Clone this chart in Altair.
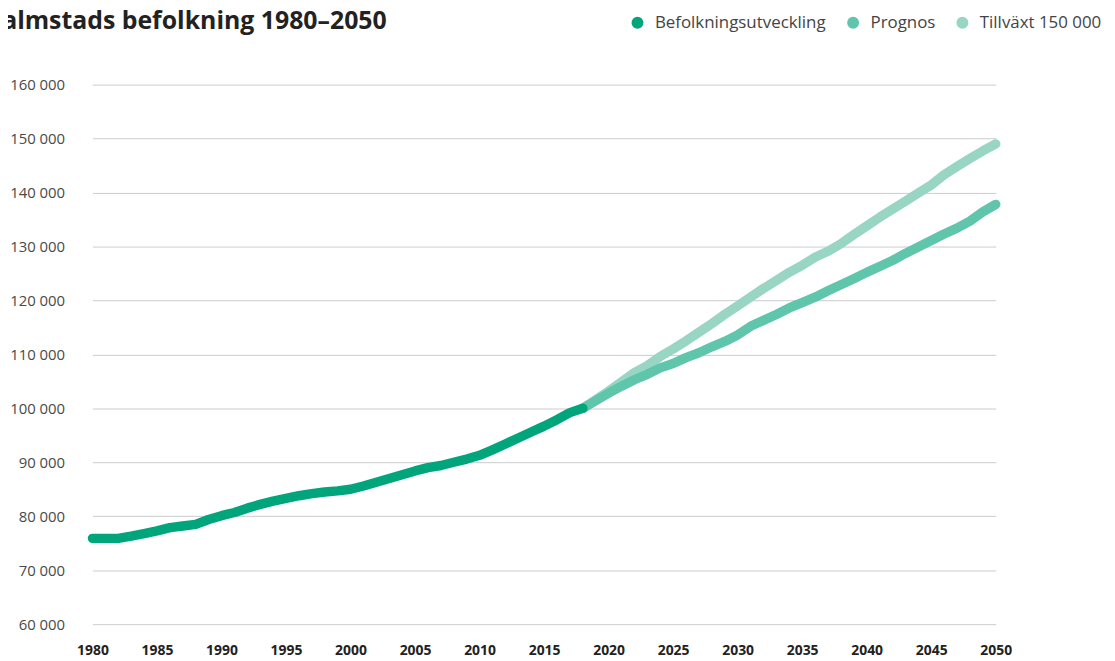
import altair as alt
import pandas as pd

# Befolkningsutveckling (historical) 1980–2018
hist_years = list(range(1980, 2019))
hist_values = [75900, 75900, 75900, 76300, 76800, 77300, 77900, 78200, 78500, 79400,
               80100, 80700, 81500, 82200, 82800, 83300, 83800, 84200, 84500, 84700,
               85000, 85600, 86300, 87000, 87700, 88400, 89000, 89400, 90000, 90600,
               91300, 92300, 93400, 94500, 95600, 96700, 97900, 99200, 100000]

# Prognos 2018–2050
prog_years = list(range(2018, 2051))
prog_values = [100000, 101400, 102800, 104100, 105300, 106300, 107500, 108300, 109400, 110300,
               111400, 112400, 113600, 115200, 116300, 117400, 118600, 119600, 120600, 121800,
               122900, 124000, 125200, 126300, 127400, 128700, 129900, 131100, 132300, 133400,
               134700, 136400, 137800]

# Tillväxt 150 000 2018–2050
till_years = list(range(2018, 2051))
till_values = [100000, 101600, 103200, 104900, 106600, 107900, 109600, 111000, 112500, 114100,
               115700, 117400, 119000, 120600, 122200, 123700, 125200, 126500, 128000, 129100,
               130500, 132200, 133800, 135400, 136900, 138400, 139900, 141400, 143300, 144800,
               146300, 147700, 149000]

series_names = ["Befolkningsutveckling", "Prognos", "Tillväxt 150 000"]
series_colors = ["#00a57c", "#5fc5ab", "#98d5c3"]
x_ticks = list(range(1980, 2051, 5))
y_ticks = list(range(60000, 160001, 10000))

rows = []
for name, ys, vs in [(series_names[0], hist_years, hist_values),
                     (series_names[1], prog_years, prog_values),
                     (series_names[2], till_years, till_values)]:
    for y, v in zip(ys, vs):
        rows.append({"year": y, "value": v, "serie": name})
df = pd.DataFrame(rows)

FONT = "Open Sans"

x_enc = alt.X("year:Q",
              scale=alt.Scale(domain=[1980, 2050], nice=False, zero=False),
              axis=alt.Axis(values=x_ticks, format="d", title=None, grid=False,
                            domain=False, ticks=False, labelFont=FONT, labelFontSize=14,
                            labelFontWeight="bold", labelColor="#222222",
                            labelPadding=20, labelFlush=False))
y_enc = alt.Y("value:Q",
              scale=alt.Scale(domain=[60000, 160000], nice=False, zero=False),
              axis=alt.Axis(values=y_ticks, title=None, grid=True, gridColor="#cccccc",
                            gridWidth=1, domain=False, ticks=False, labelFont=FONT,
                            labelFontSize=15, labelColor="#4a4a4a", labelPadding=28,
                            labelExpr="replace(format(datum.value, ','), ',', ' ')"))
color_enc = alt.Color("serie:N",
                      scale=alt.Scale(domain=series_names, range=series_colors),
                      legend=None)
fill_enc = alt.Fill("serie:N",
                    scale=alt.Scale(domain=series_names, range=series_colors),
                    legend=alt.Legend(title=None, orient="none", direction="horizontal",
                                      legendX=540, legendY=-71, symbolType="circle",
                                      symbolSize=144, symbolStrokeWidth=0,
                                      symbolOpacity=1,
                                      labelFont=FONT, labelFontSize=17, labelLimit=400,
                                      labelColor="#444444", labelOffset=9,
                                      columnPadding=18, padding=0))

base = alt.Chart(df)

def layer_for(name):
    return base.transform_filter(alt.datum.serie == name).mark_line(
        strokeWidth=9.5, strokeCap="round", strokeJoin="round"
    ).encode(x=x_enc, y=y_enc, color=color_enc)

# legend carrier: small dots at the shared 2018 start point, hidden under the lines' round caps
legend_layer = base.transform_filter(alt.datum.year == 2018).mark_circle(
    size=40, opacity=1).encode(x=x_enc, y=y_enc, fill=fill_enc)

chart = alt.layer(
    legend_layer,
    layer_for(series_names[2]),
    layer_for(series_names[1]),
    layer_for(series_names[0]),
).properties(
    width=909, height=543,
    autosize=alt.AutoSizeParams(type="none"),
    padding={"left": 85, "top": 75, "right": 112, "bottom": 35},
    title=alt.TitleParams("Halmstads befolkning 1980–2050", anchor="start", frame="group",
                          font=FONT, fontSize=25, fontWeight="bold", color="#222222",
                          baseline="alphabetic", dx=-110, offset=-40),
).configure_view(stroke=None)

chart.save("out.html", embed_options={"renderer": "svg", "actions": False})
